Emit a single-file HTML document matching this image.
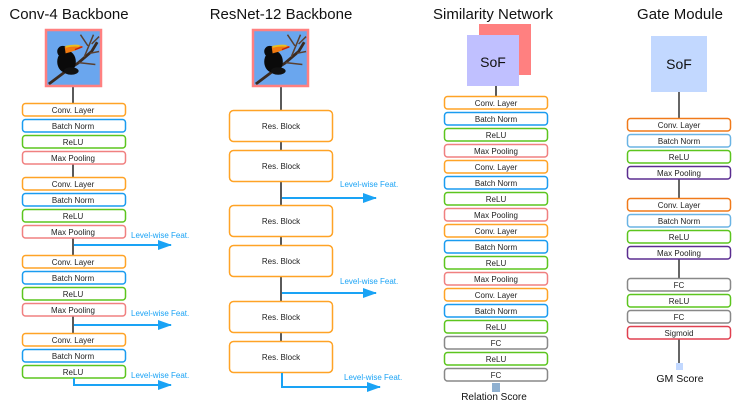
<!DOCTYPE html>
<html><head><meta charset="utf-8"><style>
html,body{margin:0;padding:0;background:#fff;}
svg{display:block;}
text{font-family:"Liberation Sans",sans-serif;}
</style></head><body>
<svg width="748" height="407" viewBox="0 0 748 407" xmlns="http://www.w3.org/2000/svg">
<defs>
<g id="toucan">
<rect x="0" y="0" width="57" height="58" fill="#6aa6ee"/>
<path d="M2,57 L22,42 L34,34 L48,22 L54,12" stroke="#3a2a20" stroke-width="3" fill="none"/>
<path d="M34,34 L52,36 M40,28 L50,4 M46,24 L56,22 M44,16 L36,4 M48,14 L56,6" stroke="#5a4030" stroke-width="1.6" fill="none"/>
<ellipse cx="21" cy="33" rx="10" ry="12" fill="#0a0a0a"/>
<ellipse cx="26" cy="43" rx="8" ry="4" fill="#111"/>
<circle cx="17" cy="22" r="6" fill="#0a0a0a"/>
<path d="M19,17 Q30,13 39,17 Q30,22 20,24 Z" fill="#f07a10"/>
<path d="M20,17 Q28,15 35,16" stroke="#e8c020" stroke-width="2" fill="none"/>
<path d="M30,20 L38,17" stroke="#c02010" stroke-width="1.5"/>
</g>
<marker id="ah" markerWidth="14" markerHeight="10" refX="13" refY="5" orient="auto" markerUnits="userSpaceOnUse"><path d="M0,0 L14,5 L0,10 Z" fill="#1aa3f5"/></marker>
</defs>

<g font-size="15" fill="#111" text-anchor="middle">
<text x="69" y="19">Conv-4 Backbone</text>
<text x="281" y="19">ResNet-12 Backbone</text>
<text x="493" y="19">Similarity Network</text>
<text x="680" y="19">Gate Module</text>
</g>

<!-- Conv-4 column -->
<g stroke="#222" stroke-width="1.5">
<line x1="73" y1="87" x2="73" y2="103"/>
<line x1="73" y1="164" x2="73" y2="177"/>
<line x1="73" y1="238" x2="73" y2="255"/>
<line x1="73" y1="316" x2="73" y2="333"/>
</g>
<rect x="46" y="30" width="55" height="56" fill="#ff8080"/>
<g transform="translate(47,31) scale(0.93)"><use href="#toucan"/></g>
<rect x="46" y="30" width="55" height="56" fill="none" stroke="#ff8080" stroke-width="2.5"/>

<g fill="#fff" stroke-width="1.5" font-size="8" text-anchor="middle">
<g>
<rect x="22.5" y="103.5" width="103" height="12.5" rx="3" stroke="#ffa326"/><rect x="22.5" y="119.5" width="103" height="12.5" rx="3" stroke="#1a9cf0"/>
<rect x="22.5" y="135.5" width="103" height="12.5" rx="3" stroke="#5cc51e"/><rect x="22.5" y="151.5" width="103" height="12.5" rx="3" stroke="#f08080"/>
<rect x="22.5" y="177.5" width="103" height="12.5" rx="3" stroke="#ffa326"/><rect x="22.5" y="193.5" width="103" height="12.5" rx="3" stroke="#1a9cf0"/>
<rect x="22.5" y="209.5" width="103" height="12.5" rx="3" stroke="#5cc51e"/><rect x="22.5" y="225.5" width="103" height="12.5" rx="3" stroke="#f08080"/>
<rect x="22.5" y="255.5" width="103" height="12.5" rx="3" stroke="#ffa326"/><rect x="22.5" y="271.5" width="103" height="12.5" rx="3" stroke="#1a9cf0"/>
<rect x="22.5" y="287.5" width="103" height="12.5" rx="3" stroke="#5cc51e"/><rect x="22.5" y="303.5" width="103" height="12.5" rx="3" stroke="#f08080"/>
<rect x="22.5" y="333.5" width="103" height="12.5" rx="3" stroke="#ffa326"/><rect x="22.5" y="349.5" width="103" height="12.5" rx="3" stroke="#1a9cf0"/>
<rect x="22.5" y="365.5" width="103" height="12.5" rx="3" stroke="#5cc51e"/>
</g>
<g fill="#222" stroke="none">
<text x="73" y="113">Conv. Layer</text><text x="73" y="129">Batch Norm</text><text x="73" y="145">ReLU</text><text x="73" y="161">Max Pooling</text>
<text x="73" y="187">Conv. Layer</text><text x="73" y="203">Batch Norm</text><text x="73" y="219">ReLU</text><text x="73" y="235">Max Pooling</text>
<text x="73" y="265">Conv. Layer</text><text x="73" y="281">Batch Norm</text><text x="73" y="297">ReLU</text><text x="73" y="313">Max Pooling</text>
<text x="73" y="343">Conv. Layer</text><text x="73" y="359">Batch Norm</text><text x="73" y="375">ReLU</text>
</g>
</g>
<g stroke="#1aa3f5" stroke-width="2" fill="none">
<path d="M74,245 L171,245" marker-end="url(#ah)"/>
<path d="M74,325 L171,325" marker-end="url(#ah)"/>
<path d="M74,378 L74,385 L171,385" marker-end="url(#ah)"/>
</g>
<g fill="#1aa3f5" font-size="8">
<text x="131" y="238">Level-wise Feat.</text>
<text x="131" y="316">Level-wise Feat.</text>
<text x="131" y="378">Level-wise Feat.</text>
</g>

<!-- ResNet column -->
<g stroke="#222" stroke-width="1.5">
<line x1="281" y1="87" x2="281" y2="110"/>
<line x1="281" y1="141" x2="281" y2="150"/>
<line x1="281" y1="181" x2="281" y2="205"/>
<line x1="281" y1="237" x2="281" y2="245"/>
<line x1="281" y1="277" x2="281" y2="301"/>
<line x1="281" y1="333" x2="281" y2="341"/>
</g>
<rect x="253" y="30" width="55" height="56" fill="#ff8080"/>
<g transform="translate(254,31) scale(0.93)"><use href="#toucan"/></g>
<rect x="253" y="30" width="55" height="56" fill="none" stroke="#ff8080" stroke-width="2.5"/>
<g fill="#fff" stroke="#ffa326" stroke-width="1.5">
<rect x="229.5" y="110.5" width="103" height="31" rx="4"/>
<rect x="229.5" y="150.5" width="103" height="31" rx="4"/>
<rect x="229.5" y="205.5" width="103" height="31" rx="4"/>
<rect x="229.5" y="245.5" width="103" height="31" rx="4"/>
<rect x="229.5" y="301.5" width="103" height="31" rx="4"/>
<rect x="229.5" y="341.5" width="103" height="31" rx="4"/>
</g>
<g fill="#222" font-size="8" text-anchor="middle">
<text x="281" y="129">Res. Block</text><text x="281" y="169">Res. Block</text>
<text x="281" y="224">Res. Block</text><text x="281" y="264">Res. Block</text>
<text x="281" y="320">Res. Block</text><text x="281" y="360">Res. Block</text>
</g>
<g stroke="#1aa3f5" stroke-width="2" fill="none">
<path d="M282,198 L376,198" marker-end="url(#ah)"/>
<path d="M282,293 L376,293" marker-end="url(#ah)"/>
<path d="M282,373 L282,387 L380,387" marker-end="url(#ah)"/>
</g>
<g fill="#1aa3f5" font-size="8">
<text x="340" y="187">Level-wise Feat.</text>
<text x="340" y="284">Level-wise Feat.</text>
<text x="344" y="380">Level-wise Feat.</text>
</g>

<!-- Similarity network -->
<rect x="479" y="24" width="52" height="51" fill="#ff8080"/>
<rect x="467" y="35" width="52" height="51" fill="#c0c0ff"/>
<text x="493" y="67" font-size="14" text-anchor="middle" fill="#111">SoF</text>
<line x1="496" y1="86" x2="496" y2="96" stroke="#222" stroke-width="1.5"/>
<g fill="#fff" stroke-width="1.5">
<rect x="444.5" y="96.5" width="103" height="12.5" rx="3" stroke="#ffa326"/>
<rect x="444.5" y="112.5" width="103" height="12.5" rx="3" stroke="#1a9cf0"/>
<rect x="444.5" y="128.5" width="103" height="12.5" rx="3" stroke="#5cc51e"/>
<rect x="444.5" y="144.5" width="103" height="12.5" rx="3" stroke="#f08080"/>
<rect x="444.5" y="160.5" width="103" height="12.5" rx="3" stroke="#ffa326"/>
<rect x="444.5" y="176.5" width="103" height="12.5" rx="3" stroke="#1a9cf0"/>
<rect x="444.5" y="192.5" width="103" height="12.5" rx="3" stroke="#5cc51e"/>
<rect x="444.5" y="208.5" width="103" height="12.5" rx="3" stroke="#f08080"/>
<rect x="444.5" y="224.5" width="103" height="12.5" rx="3" stroke="#ffa326"/>
<rect x="444.5" y="240.5" width="103" height="12.5" rx="3" stroke="#1a9cf0"/>
<rect x="444.5" y="256.5" width="103" height="12.5" rx="3" stroke="#5cc51e"/>
<rect x="444.5" y="272.5" width="103" height="12.5" rx="3" stroke="#f08080"/>
<rect x="444.5" y="288.5" width="103" height="12.5" rx="3" stroke="#ffa326"/>
<rect x="444.5" y="304.5" width="103" height="12.5" rx="3" stroke="#1a9cf0"/>
<rect x="444.5" y="320.5" width="103" height="12.5" rx="3" stroke="#5cc51e"/>
<rect x="444.5" y="336.5" width="103" height="12.5" rx="3" stroke="#888"/>
<rect x="444.5" y="352.5" width="103" height="12.5" rx="3" stroke="#5cc51e"/>
<rect x="444.5" y="368.5" width="103" height="12.5" rx="3" stroke="#888"/>
</g>
<g fill="#222" font-size="8" text-anchor="middle">
<text x="496" y="106">Conv. Layer</text><text x="496" y="122">Batch Norm</text><text x="496" y="138">ReLU</text><text x="496" y="154">Max Pooling</text>
<text x="496" y="170">Conv. Layer</text><text x="496" y="186">Batch Norm</text><text x="496" y="202">ReLU</text><text x="496" y="218">Max Pooling</text>
<text x="496" y="234">Conv. Layer</text><text x="496" y="250">Batch Norm</text><text x="496" y="266">ReLU</text><text x="496" y="282">Max Pooling</text>
<text x="496" y="298">Conv. Layer</text><text x="496" y="314">Batch Norm</text><text x="496" y="330">ReLU</text>
<text x="496" y="346">FC</text><text x="496" y="362">ReLU</text><text x="496" y="378">FC</text>
</g>
<rect x="492" y="383" width="8" height="9" fill="#8fb0d0"/>
<text x="494" y="400" font-size="10" text-anchor="middle" fill="#111">Relation Score</text>

<!-- Gate module -->
<rect x="651" y="36" width="56" height="56" fill="#c2d8ff"/>
<text x="679" y="69" font-size="14" text-anchor="middle" fill="#111">SoF</text>
<g stroke="#333" stroke-width="1.5">
<line x1="679" y1="92" x2="679" y2="118"/>
<line x1="679" y1="179" x2="679" y2="198"/>
<line x1="679" y1="259" x2="679" y2="278"/>
<line x1="679" y1="339" x2="679" y2="363"/>
</g>
<g fill="#fff" stroke-width="1.5">
<rect x="627.5" y="118.5" width="103" height="12.5" rx="3" stroke="#f07a1a"/>
<rect x="627.5" y="134.5" width="103" height="12.5" rx="3" stroke="#6ab4e4"/>
<rect x="627.5" y="150.5" width="103" height="12.5" rx="3" stroke="#5cc51e"/>
<rect x="627.5" y="166.5" width="103" height="12.5" rx="3" stroke="#5b2d90"/>
<rect x="627.5" y="198.5" width="103" height="12.5" rx="3" stroke="#f07a1a"/>
<rect x="627.5" y="214.5" width="103" height="12.5" rx="3" stroke="#6ab4e4"/>
<rect x="627.5" y="230.5" width="103" height="12.5" rx="3" stroke="#5cc51e"/>
<rect x="627.5" y="246.5" width="103" height="12.5" rx="3" stroke="#5b2d90"/>
<rect x="627.5" y="278.5" width="103" height="12.5" rx="3" stroke="#888"/>
<rect x="627.5" y="294.5" width="103" height="12.5" rx="3" stroke="#5cc51e"/>
<rect x="627.5" y="310.5" width="103" height="12.5" rx="3" stroke="#888"/>
<rect x="627.5" y="326.5" width="103" height="12.5" rx="3" stroke="#e04050"/>
</g>
<g fill="#222" font-size="8" text-anchor="middle">
<text x="679" y="128">Conv. Layer</text><text x="679" y="144">Batch Norm</text><text x="679" y="160">ReLU</text><text x="679" y="176">Max Pooling</text>
<text x="679" y="208">Conv. Layer</text><text x="679" y="224">Batch Norm</text><text x="679" y="240">ReLU</text><text x="679" y="256">Max Pooling</text>
<text x="679" y="288">FC</text><text x="679" y="304">ReLU</text><text x="679" y="320">FC</text><text x="679" y="336">Sigmoid</text>
</g>
<rect x="676" y="363" width="7" height="7" fill="#c2d8ff"/>
<text x="680" y="382" font-size="10.5" text-anchor="middle" fill="#111">GM Score</text>
</svg>
</body></html>
